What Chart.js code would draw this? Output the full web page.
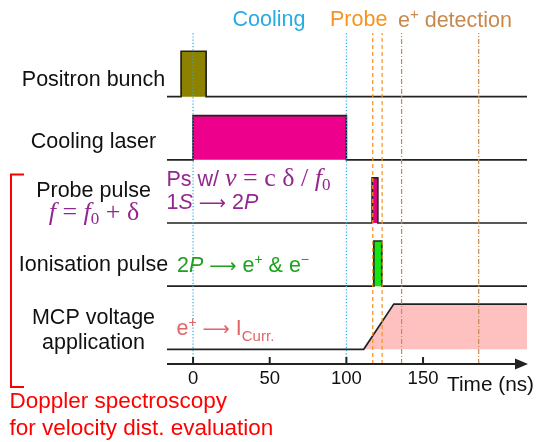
<!DOCTYPE html>
<html>
<head>
<meta charset="utf-8">
<script src="https://cdn.jsdelivr.net/npm/chart.js@4.4.1/dist/chart.umd.min.js"></script>
<style>
body { margin: 0; background: #fff; }
canvas { display: block; }
</style>
</head>
<body>
<canvas id="chart" width="541" height="442"></canvas>
<script>
// time axis (ns)
const timeMin = -17;
const timeMax = 217.8;
const tickValues = [0, 50, 100, 150];

// signal tracks, top to bottom
const trackNames = ['Positron bunch', 'Cooling laser', 'Probe pulse', 'Ionisation pulse'];
const trackLevels = [4, 3, 2, 1];
const pulseStart = [-7.8, 0, 116.8, 117.9];
const pulseEnd = [8.5, 100, 120.5, 123.1];
const pulseHeight = [0.72, 0.70, 0.715, 0.715];
const pulseColors = ['#8c8200', '#ec008c', '#e4007f', '#14e614'];

// MCP voltage ramp (track level 0)
const mcpTimes = [timeMin, 111.3, 130.9, timeMax];
const mcpValues = [0, 0, 0.715, 0.715];

// marker lines
const coolingMarks = [0, 100];
const probeMarks = [117.2, 123.3];
const detectionMarks = [136, 186.3];

const SANS = '"Liberation Sans", Arial, sans-serif';
const SERIF = '"Liberation Serif", "Times New Roman", serif';

function markerLines(times, color, dash) {
    return times.map(t => ({
        data: [{ x: t, y: -0.233 }, { x: t, y: 5.009 }],
        borderColor: color,
        borderWidth: 1.2,
        borderDash: dash,
        pointRadius: 0,
        fill: false
    }));
}

function pulseTrack(i) {
    const lvl = trackLevels[i];
    const top = lvl + pulseHeight[i];
    return {
        data: [
            { x: timeMin, y: lvl },
            { x: pulseStart[i], y: lvl },
            { x: pulseStart[i], y: top },
            { x: pulseEnd[i], y: top },
            { x: pulseEnd[i], y: lvl },
            { x: timeMax, y: lvl }
        ],
        borderColor: '#222',
        borderWidth: 1.7,
        backgroundColor: pulseColors[i],
        fill: { value: lvl },
        pointRadius: 0
    };
}

const datasets = [
    ...markerLines(coolingMarks, '#29abe2', [1.2, 2]),
    ...markerLines(probeMarks, '#f7931e', [4, 3]),
    ...markerLines(detectionMarks, '#c8894e', [5, 2, 1, 2]),
    ...trackNames.map((n, i) => pulseTrack(i)),
    {
        data: mcpTimes.map((t, i) => ({ x: t, y: mcpValues[i] })),
        borderColor: '#222',
        borderWidth: 1.7,
        backgroundColor: '#ffc0c0',
        fill: { value: 0 },
        pointRadius: 0
    }
];

function drawRuns(ctx, x, y, runs, align) {
    let w = 0;
    runs.forEach(r => { ctx.font = r[1]; w += ctx.measureText(r[0]).width; });
    if (align === 'center') x -= w / 2;
    if (align === 'right') x -= w;
    runs.forEach(r => {
        ctx.font = r[1];
        ctx.fillText(r[0], x, y + (r[2] || 0));
        x += ctx.measureText(r[0]).width;
    });
}

const annotations = {
    id: 'annotations',
    afterDraw(chart) {
        const ctx = chart.ctx;
        const xs = chart.scales.x;
        const area = chart.chartArea;
        const axisY = area.bottom;
        ctx.save();

        // time axis with arrow
        ctx.strokeStyle = '#222';
        ctx.fillStyle = '#222';
        ctx.lineWidth = 2;
        ctx.beginPath();
        ctx.moveTo(area.left, axisY);
        ctx.lineTo(area.right - 6, axisY);
        ctx.stroke();
        ctx.beginPath();
        ctx.moveTo(area.right + 1, axisY);
        ctx.lineTo(area.right - 12, axisY - 5.5);
        ctx.lineTo(area.right - 12, axisY + 5.5);
        ctx.closePath();
        ctx.fill();
        tickValues.forEach(v => {
            const px = xs.getPixelForValue(v);
            ctx.beginPath();
            ctx.moveTo(px, axisY - 7);
            ctx.lineTo(px, axisY);
            ctx.stroke();
        });

        ctx.textBaseline = 'alphabetic';
        ctx.fillStyle = '#111';
        ctx.textAlign = 'left';
        tickValues.forEach(v => {
            drawRuns(ctx, xs.getPixelForValue(v), 384, [[String(v), '18.5px ' + SANS]], 'center');
        });
        drawRuns(ctx, 447, 391, [['Time (ns)', '20.8px ' + SANS]]);

        // track labels
        const lab = '21.5px ' + SANS;
        drawRuns(ctx, 93.5, 86, [['Positron bunch', lab]], 'center');
        drawRuns(ctx, 93.5, 148, [['Cooling laser', lab]], 'center');
        drawRuns(ctx, 93.5, 196.5, [['Probe pulse', lab]], 'center');
        drawRuns(ctx, 93.5, 271, [['Ionisation pulse', lab]], 'center');
        drawRuns(ctx, 93.5, 324, [['MCP voltage', lab]], 'center');
        drawRuns(ctx, 93.5, 349, [['application', lab]], 'center');

        // probe formula
        ctx.fillStyle = '#93278f';
        const it = 'italic 26px ' + SERIF;
        const rm = '26px ' + SERIF;
        const sub = '17px ' + SERIF;
        const arrow = '19px "DejaVu Sans", sans-serif';
        drawRuns(ctx, 94, 220, [['f', it], [' = ', rm], ['f', it], ['0', sub, 4], [' + δ', rm]], 'center');

        drawRuns(ctx, 166.5, 186, [['Ps w/ ', lab], ['v', it], [' = c δ / ', rm], ['f', it], ['0', sub, 4]]);
        drawRuns(ctx, 166.5, 208.5, [['1', lab], ['S', 'italic ' + lab], [' ', lab], ['⟶', arrow], [' 2', lab], ['P', 'italic ' + lab]]);

        // ionisation
        ctx.fillStyle = '#1ea01e';
        drawRuns(ctx, 177, 272, [['2', lab], ['P', 'italic ' + lab], [' ', lab], ['⟶', arrow], [' e', lab], ['+', '14px ' + SANS, -8], [' & e', lab], ['−', '14px ' + SANS, -8]]);

        // MCP current
        ctx.fillStyle = '#e06666';
        drawRuns(ctx, 176.5, 335, [['e', lab], ['+', '14px ' + SANS, -8], [' ', lab], ['⟶', arrow], [' I', lab], ['Curr.', '15px ' + SANS, 6]]);

        // phase labels
        ctx.fillStyle = '#29abe2';
        drawRuns(ctx, 232.5, 25.5, [['Cooling', lab]]);
        ctx.fillStyle = '#f7931e';
        drawRuns(ctx, 330, 26, [['Probe', lab]]);
        ctx.fillStyle = '#c8894e';
        drawRuns(ctx, 398, 26.5, [['e', lab], ['+', '15px ' + SANS, -8], [' detection', lab]]);

        // doppler bracket
        ctx.strokeStyle = '#ff0000';
        ctx.lineWidth = 2;
        ctx.beginPath();
        ctx.moveTo(24, 174.5);
        ctx.lineTo(11, 174.5);
        ctx.lineTo(11, 387);
        ctx.lineTo(24, 387);
        ctx.stroke();
        ctx.fillStyle = '#ff0000';
        const red = '22.5px ' + SANS;
        drawRuns(ctx, 9.5, 408, [['Doppler spectroscopy', red]]);
        drawRuns(ctx, 9.5, 435, [['for velocity dist. evaluation', red]]);

        ctx.restore();
    }
};

new Chart(document.getElementById('chart').getContext('2d'), {
    type: 'line',
    data: { datasets: datasets },
    options: {
        responsive: false,
        animation: false,
        events: [],
        layout: { padding: { left: 167, right: 14, top: 33, bottom: 78 } },
        scales: {
            x: { type: 'linear', display: false, min: timeMin, max: timeMax },
            y: { type: 'linear', display: false, min: -0.233, max: 5.009 }
        },
        elements: { line: { tension: 0 } },
        plugins: {
            legend: { display: false },
            tooltip: { enabled: false }
        }
    },
    plugins: [annotations]
});
</script>
</body>
</html>
